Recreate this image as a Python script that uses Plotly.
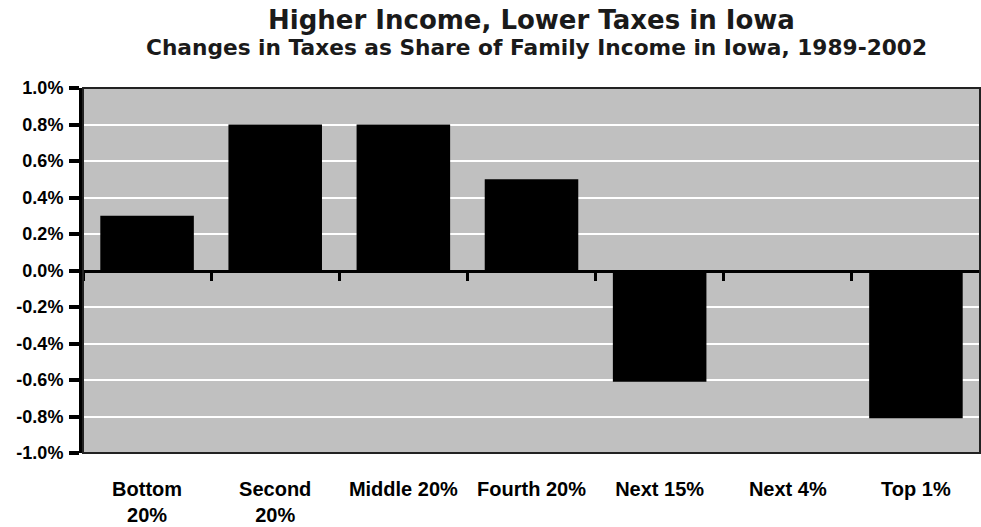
import plotly.graph_objects as go

categories = ["Bottom<br>20%", "Second<br>20%", "Middle 20%", "Fourth 20%", "Next 15%", "Next 4%", "Top 1%"]
values = [0.30, 0.80, 0.80, 0.50, -0.61, 0.0, -0.81]
ytick_vals = [-1.0, -0.8, -0.6, -0.4, -0.2, 0.0, 0.2, 0.4, 0.6, 0.8, 1.0]
ytick_text = [f"{v:.1f}%" for v in ytick_vals]
title = "Higher Income, Lower Taxes in Iowa"
subtitle = "Changes in Taxes as Share of Family Income in Iowa, 1989-2002"

n = len(categories)
xpos = list(range(n))
label_font = "Arial, Liberation Sans, sans-serif"

fig = go.Figure()
fig.add_trace(go.Bar(x=xpos, y=values, marker=dict(color="black", line=dict(width=0)),
                     hoverinfo="skip", showlegend=False))
# invisible trace carrying the category axis drawn at zero
fig.add_trace(go.Scatter(x=[-0.5, n - 0.5], y=[0, 0], xaxis="x2", mode="lines",
                         line=dict(width=0), showlegend=False, hoverinfo="skip"))

fig.update_layout(
    width=981, height=527,
    margin=dict(l=83, r=1, t=88, b=74),
    paper_bgcolor="white",
    plot_bgcolor="#C0C0C0",
    bargap=0.27,
    xaxis=dict(range=[-0.5, n - 0.5], tickmode="array", tickvals=xpos, ticktext=categories,
               showgrid=False, zeroline=False, ticks="", showline=False,
               tickfont=dict(family=label_font, size=20, color="black", weight="bold"),
               ticklabelstandoff=22),
    xaxis2=dict(range=[-0.5, n - 0.5], overlaying="x", anchor="free", position=0.5,
                showgrid=False, zeroline=False, showticklabels=False,
                tickmode="array", tickvals=[i + 0.5 for i in range(-1, n)],
                ticks="outside", ticklen=8, tickwidth=3, tickcolor="black",
                showline=True, linewidth=3, linecolor="black"),
    yaxis=dict(range=[-1.0, 1.0], tickmode="array", tickvals=ytick_vals, ticktext=ytick_text,
               showgrid=True, gridcolor="white", gridwidth=2, zeroline=False,
               ticks="outside", ticklen=10, tickwidth=4, tickcolor="black",
               showline=True, linewidth=4, linecolor="black",
               tickfont=dict(family=label_font, size=18, color="black", weight="bold"),
               ticklabelstandoff=2),
    shapes=[dict(type="rect", xref="paper", yref="paper", x0=0, x1=1, y0=0, y1=1,
                 line=dict(color="#222222", width=2), layer="above")],
    annotations=[
        dict(text=f"<b>{title}</b>", xref="paper", yref="paper", x=0.5, y=1, yshift=68,
             showarrow=False, xanchor="center", yanchor="middle",
             font=dict(family="DejaVu Sans", size=26, color="#1a1a1a")),
        dict(text=f"<b>{subtitle}</b>", xref="paper", yref="paper", x=0.506, y=1, yshift=41,
             showarrow=False, xanchor="center", yanchor="middle",
             font=dict(family="DejaVu Sans", size=21.7, color="#1a1a1a")),
    ],
)

fig.write_html("out.html", config={"displayModeBar": False},
               post_script="document.body.style.margin='0';")
